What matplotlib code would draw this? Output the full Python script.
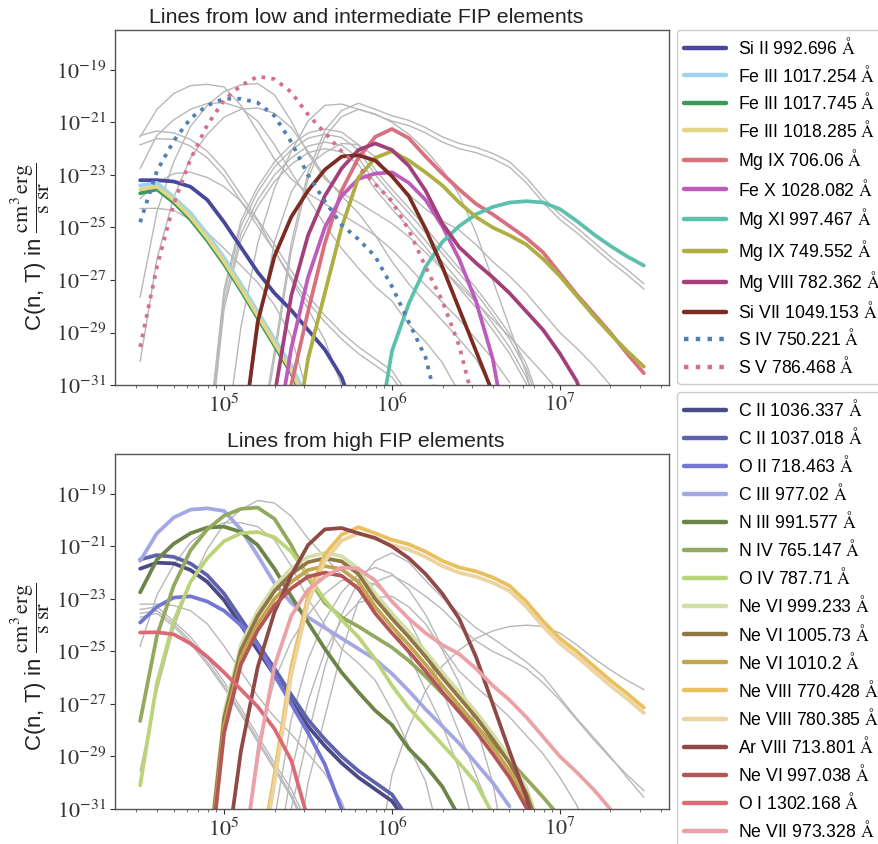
import numpy as np
import matplotlib
matplotlib.use('Agg')
import matplotlib.pyplot as plt
from matplotlib.ticker import FixedLocator, NullLocator, LogLocator, FuncFormatter, NullFormatter

plt.rcParams['font.family'] = ['Liberation Sans', 'DejaVu Sans']
plt.rcParams['mathtext.fontset'] = 'stix'

N = None
# log10 temperature grid (K)
log_T = [4.5, 4.6, 4.7, 4.8, 4.9, 5.0, 5.1, 5.2, 5.3, 5.4, 5.5, 5.6, 5.7, 5.8, 5.9, 6.0,
         6.1, 6.2, 6.3, 6.4, 6.5, 6.6, 6.7, 6.8, 6.9, 7.0, 7.1, 7.2, 7.3, 7.4, 7.5]

# ---- low / intermediate FIP lines: log10 C(n,T) on the log_T grid ----
si2_992 = [-23.2, -23.2, -23.25, -23.45, -23.95, -24.8, -25.75, -26.7, -27.5, -28.15, -28.9, -29.65, -30.7, -32.5,
           N, N, N, N, N, N, N, N, N, N, N, N, N, N, N, N, N]
fe3_1017a = [-23.4, -23.3, -23.85, -24.45, -25.25, -26.15, -27.15, -28.2, -29.25, -30.25, -31.6,
             N, N, N, N, N, N, N, N, N, N, N, N, N, N, N, N, N, N, N, N]
fe3_1017b = [-23.7, -23.55, -24.05, -24.7, -25.5, -26.4, -27.4, -28.45, -29.5, -30.55, -31.9,
             N, N, N, N, N, N, N, N, N, N, N, N, N, N, N, N, N, N, N, N]
fe3_1018 = [-23.55, -23.45, -23.95, -24.6, -25.4, -26.3, -27.3, -28.35, -29.4, -30.45, -31.8,
            N, N, N, N, N, N, N, N, N, N, N, N, N, N, N, N, N, N, N, N]
mg9_706 = [N, N, N, N, N, N, N, N, -34.0, -31.0, -28.2, -25.6, -23.6, -22.35, -21.55, -21.25,
           -21.6, -22.3, -22.95, -23.55, -24.1, -24.5, -24.95, -25.4, -25.95, -26.75, -27.55, -28.27, -29.0, -29.8, -30.55]
fe10_1028 = [N, N, N, N, N, N, N, N, -33.5, -29.6, -26.9, -25.0, -23.8, -23.15, -22.95, -22.9,
             -23.3, -23.95, -24.95, -26.2, -27.8, -30.0, -33.5, N, N, N, N, N, N, N, N]
mg11_997 = [N, N, N, N, N, N, N, N, N, N, N, N, N, N, -33.5, -29.7,
            -27.9, -26.5, -25.55, -24.95, -24.5, -24.22, -24.05, -24.0, -24.05, -24.3, -24.75, -25.25, -25.7, -26.1, -26.45]
mg9_749 = [N, N, N, N, N, N, N, N, N, -34.0, -30.0, -27.5, -25.0, -23.1, -22.35, -22.1,
           -22.45, -22.9, -23.4, -24.05, -24.6, -25.0, -25.3, -25.65, -26.2, -26.85, -27.6, -28.35, -29.05, -29.7, -30.3]
mg8_782 = [N, N, N, N, N, N, N, -35.0, -31.4, -27.6, -25.3, -23.8, -22.75, -22.05, -21.8, -22.05,
           -22.65, -23.6, -24.85, -25.75, -26.35, -26.9, -27.5, -28.2, -28.9, -29.8, -30.85, -32.5, N, N, N]
si7_1049 = [N, N, N, N, N, N, -33.5, -28.6, -26.1, -24.6, -23.6, -22.8, -22.3, -22.25, -22.45, -23.05,
            -23.8, -25.05, -26.5, -28.1, -29.7, -31.3, N, N, N, N, N, N, N, N, N]
s4_750 = [-24.8, -22.85, -21.7, -20.85, -20.35, -20.1, -20.1, -20.25, -20.75, -21.75, -23.0, -24.0, -24.9, -25.45,
          -26.1, -27.25, -28.6, -29.95, -32.5, N, N, N, N, N, N, N, N, N, N, N, N]
s5_786 = [-29.55, -26.5, -24.1, -22.4, -21.1, -20.15, -19.6, -19.25, -19.35, -19.85, -20.7, -21.4, -22.1, -22.7,
          -23.35, -24.0, -25.1, -26.5, -27.8, -29.5, -32.0, N, N, N, N, N, N, N, N, N, N]

# ---- high FIP lines ----
c2_1036 = [-21.85, -21.62, -21.65, -21.9, -22.35, -23.05, -24.0, -24.95, -25.9, -26.9, -27.85, -28.6, -29.25,
           -29.8, -30.25, -30.7, -31.6, N, N, N, N, N, N, N, N, N, N, N, N, N, N]
c2_1037 = [-21.5, -21.33, -21.4, -21.65, -22.1, -22.8, -23.75, -24.7, -25.65, -26.65, -27.6, -28.35, -29.0,
           -29.55, -30.0, -30.45, -31.4, N, N, N, N, N, N, N, N, N, N, N, N, N, N]
o2_718 = [-23.9, -23.3, -22.95, -22.9, -23.1, -23.45, -24.0, -24.75, -25.9, -27.0, -28.1, -29.3, -31.0,
          N, N, N, N, N, N, N, N, N, N, N, N, N, N, N, N, N, N]
c3_977 = [-21.55, -20.5, -19.9, -19.6, -19.55, -19.65, -20.35, -21.35, -22.4, -23.15, -23.7, -24.1, -24.5, -24.9,
          -25.3, -25.85, -26.5, -27.2, -27.85, -28.5, -29.25, -30.0, -30.9, N, N, N, N, N, N, N, N]
n3_991 = [-22.75, -21.5, -20.9, -20.5, -20.28, -20.25, -20.45, -20.95, -21.85, -22.9, -23.9, -24.9, -25.8, -26.55,
          -27.25, -27.8, -28.7, -29.35, -30.15, -31.3, N, N, N, N, N, N, N, N, N, N, N]
n4_765 = [-27.65, -24.4, -22.5, -21.15, -20.35, -19.83, -19.57, -19.52, -19.95, -20.95, -22.2, -23.15, -23.7, -24.05,
          -24.45, -24.85, -25.35, -25.95, -26.6, -27.2, -27.85, -28.5, -29.15, -29.85, -30.55, -31.3, N, N, N, N, N]
o4_787 = [-30.1, -26.2, -23.85, -22.35, -21.45, -20.8, -20.5, -20.45, -20.65, -21.2, -22.1, -23.05, -23.8, -24.45,
          -25.3, -26.3, -27.15, -27.85, -28.55, -29.25, -30.0, -31.2, N, N, N, N, N, N, N, N, N]
ne6_999 = [N, N, N, N, -33.25, -27.35, -24.75, -23.45, -22.5, -21.85, -21.4, -21.25, -21.37, -21.85, -22.8, -23.55,
           -24.25, -25.0, -25.8, -26.55, -27.3, -28.15, -29.05, -30.2, -32.0, N, N, N, N, N, N]
ne6_1005 = [N, N, N, N, -33.45, -27.55, -24.95, -23.65, -22.7, -22.05, -21.6, -21.45, -21.57, -22.05, -23.0, -23.75,
            -24.45, -25.2, -26.0, -26.75, -27.5, -28.35, -29.25, -30.4, -32.2, N, N, N, N, N, N]
ne6_1010 = [N, N, N, N, -33.75, -27.85, -25.25, -23.95, -23.0, -22.35, -21.9, -21.75, -21.87, -22.35, -23.3, -24.05,
            -24.75, -25.5, -26.3, -27.05, -27.8, -28.65, -29.55, -30.7, -32.5, N, N, N, N, N, N]
ne8_770 = [N, N, N, N, N, N, N, -33.5, -29.7, -25.6, -22.9, -21.3, -20.55, -20.27, -20.5, -20.75,
           -20.92, -21.2, -21.55, -21.8, -21.95, -22.18, -22.5, -23.1, -23.85, -24.5, -25.0, -25.55, -26.1, -26.6, -27.14]
ne8_780 = [N, N, N, N, N, N, N, -33.8, -30.0, -25.9, -23.15, -21.55, -20.78, -20.5, -20.7, -20.95,
           -21.12, -21.4, -21.75, -22.0, -22.15, -22.38, -22.7, -23.3, -24.05, -24.7, -25.2, -25.75, -26.3, -26.8, -27.34]
ar8_713 = [N, N, N, N, N, -33.5, -28.8, -25.6, -23.5, -22.1, -20.95, -20.35, -20.3, -20.5, -20.68, -21.0,
           -21.45, -22.05, -22.8, -23.75, -25.2, -27.0, -28.8, -30.55, -33.0, N, N, N, N, N, N]
ne6_997 = [N, N, N, N, -34.0, -28.1, -25.5, -24.2, -23.25, -22.6, -22.15, -22.0, -22.12, -22.6, -23.55, -24.3,
           -25.0, -25.75, -26.55, -27.3, -28.05, -28.9, -29.8, -30.95, -33.0, N, N, N, N, N, N]
o1_1302 = [-24.28, -24.27, -24.35, -24.7, -25.2, -25.8, -26.45, -27.1, -27.95, -29.15, -31.4,
           N, N, N, N, N, N, N, N, N, N, N, N, N, N, N, N, N, N, N, N]
ne7_973 = [N, N, N, N, N, N, -33.5, -29.0, -25.55, -23.65, -22.65, -22.15, -21.8, -21.85, -22.3, -23.1,
           -23.75, -24.3, -24.75, -25.1, -25.65, -26.3, -26.85, -27.5, -28.25, -29.0, -29.6, -30.25, -31.0, N, N]

low_fip = [
    (si2_992, 'Si II 992.696', '#47479c', '-'),
    (fe3_1017a, 'Fe III 1017.254', '#9dd6ec', '-'),
    (fe3_1017b, 'Fe III 1017.745', '#3a9a58', '-'),
    (fe3_1018, 'Fe III 1018.285', '#e4d486', '-'),
    (mg9_706, 'Mg IX 706.06', '#d8707e', '-'),
    (fe10_1028, 'Fe X 1028.082', '#bd5cbd', '-'),
    (mg11_997, 'Mg XI 997.467', '#5cc0ad', '-'),
    (mg9_749, 'Mg IX 749.552', '#aeae42', '-'),
    (mg8_782, 'Mg VIII 782.362', '#a3407a', '-'),
    (si7_1049, 'Si VII 1049.153', '#7b2b22', '-'),
    (s4_750, 'S IV 750.221', '#4f7fb5', ':'),
    (s5_786, 'S V 786.468', '#d6708a', ':'),
]
high_fip = [
    (c2_1036, 'C II 1036.337', '#4a4b84', '-'),
    (c2_1037, 'C II 1037.018', '#5f61ad', '-'),
    (o2_718, 'O II 718.463', '#7476d4', '-'),
    (c3_977, 'C III 977.02', '#a5a7e2', '-'),
    (n3_991, 'N III 991.577', '#6c8447', '-'),
    (n4_765, 'N IV 765.147', '#93aa5e', '-'),
    (o4_787, 'O IV 787.71', '#bcd479', '-'),
    (ne6_999, 'Ne VI 999.233', '#d3dfa8', '-'),
    (ne6_1005, 'Ne VI 1005.73', '#937645', '-'),
    (ne6_1010, 'Ne VI 1010.2', '#c2a64f', '-'),
    (ne8_770, 'Ne VIII 770.428', '#eabf5e', '-'),
    (ne8_780, 'Ne VIII 780.385', '#ecd3a0', '-'),
    (ar8_713, 'Ar VIII 713.801', '#8f4947', '-'),
    (ne6_997, 'Ne VI 997.038', '#b45556', '-'),
    (o1_1302, 'O I 1302.168', '#da6b76', '-'),
    (ne7_973, 'Ne VII 973.328', '#eca1a6', '-'),
]

T = 10 ** np.array(log_T)

def to_c(vals):
    arr = np.array([np.nan if v is None else v for v in vals], dtype=float)
    return 10 ** arr

fig = plt.figure(figsize=(8.79, 8.44), dpi=100)
ax1 = fig.add_axes([0.1308, 0.5438, 0.6303, 0.4207])
ax2 = fig.add_axes([0.1308, 0.0415, 0.6303, 0.4206])

exp_fmt = FuncFormatter(lambda v, p: r'$10^{%d}$' % int(round(np.log10(v))))

def style(ax, title, pad, label_y):
    ax.set_xscale('log')
    ax.set_yscale('log')
    ax.set_xlim(10 ** 4.35, 10 ** 7.65)
    ax.set_ylim(1e-31, 10 ** -17.48)
    ax.xaxis.set_major_locator(FixedLocator([1e5, 1e6, 1e7]))
    ax.xaxis.set_major_formatter(exp_fmt)
    ax.xaxis.set_minor_locator(LogLocator(base=10, subs=np.arange(2, 10)))
    ax.xaxis.set_minor_formatter(NullFormatter())
    ax.yaxis.set_major_locator(FixedLocator([1e-19, 1e-21, 1e-23, 1e-25, 1e-27, 1e-29, 1e-31]))
    ax.yaxis.set_major_formatter(exp_fmt)
    ax.yaxis.set_minor_locator(NullLocator())
    ax.tick_params(which='major', length=3.5, width=0.8, labelsize=16, colors='#333333', pad=3)
    ax.tick_params(which='minor', length=2, width=0.6, colors='#555555')
    for s in ax.spines.values():
        s.set_color('#555555')
        s.set_linewidth(1.0)
    ax.set_title(title, fontsize=15.4, pad=pad, color='#222222', x=0.453)
    ax.set_ylabel(r'C(n, T) in $\dfrac{\mathrm{cm}^3\,\mathrm{erg}}{\mathrm{s\;sr}}$', fontsize=16,
                  color='#222222')
    ax.yaxis.set_label_coords(-0.112, label_y)

def draw(ax, own, other):
    for vals, lab, col, ls in other:
        ax.plot(T, to_c(vals), color='#b8b8b8', lw=1.0, zorder=1)
    for vals, lab, col, ls in own:
        ax.plot(T, to_c(vals), color=col, lw=2.7, ls=ls, zorder=2,
                label=lab + r' $\mathrm{\AA}$', solid_capstyle='round')

draw(ax1, low_fip, high_fip)
draw(ax2, high_fip, low_fip)
style(ax1, 'Lines from low and intermediate FIP elements', 5, 0.39)
style(ax2, 'Lines from high FIP elements', 5, 0.40)

leg_kw = dict(loc='upper left', borderaxespad=0, fontsize=12.7, handlelength=2.4,
              handletextpad=0.65, frameon=True, fancybox=True, edgecolor='#cccccc',
              framealpha=1.0)
l1 = ax1.legend(bbox_to_anchor=(1.0144, 1.0), labelspacing=0.37, **leg_kw)
l2 = ax2.legend(bbox_to_anchor=(1.0144, 1.1746), labelspacing=0.40, **leg_kw)
for leg in (l1, l2):
    for line in leg.get_lines():
        line.set_linewidth(3.2)

fig.savefig('out.png', dpi=100)
